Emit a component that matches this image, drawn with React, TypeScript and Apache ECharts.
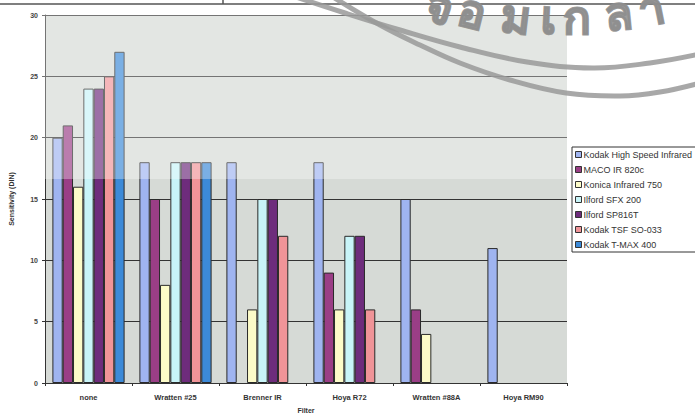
import React, { useEffect, useRef } from "react";
import * as echarts from "echarts";

const categories = ["none", "Wratten #25", "Brenner IR", "Hoya R72", "Wratten #88A", "Hoya RM90"];
const seriesNames = [
  "Kodak High Speed Infrared",
  "MACO IR 820c",
  "Konica Infrared 750",
  "Ilford SFX 200",
  "Ilford SP816T",
  "Kodak TSF SO-033",
  "Kodak T-MAX 400",
];
const kodakHSI = [20, 18, 18, 18, 15, 11];
const macoIR = [21, 15, null, 9, 6, null];
const konica750 = [16, 8, 6, 6, 4, null];
const ilfordSFX = [24, 18, 15, 12, null, null];
const ilfordSP816 = [24, 18, 15, 12, null, null];
const kodakTSF = [25, 18, 12, 6, null, null];
const kodakTmax = [27, 18, null, null, null, null];
const seriesData = [kodakHSI, macoIR, konica750, ilfordSFX, ilfordSP816, kodakTSF, kodakTmax];
const colors = ["#9fb4f0", "#9a3e86", "#fcfbc8", "#c8f4f8", "#6e2c7c", "#f09498", "#3c8ad8"];
const yTicks = [0, 5, 10, 15, 20, 25, 30];

// watermark (scanned seal) decoration
const watermarkChars = ["จ", "อ", "ม", "เ", "ก", "ล", "า"];
const watermarkX = [433, 467, 513, 548, 577, 620, 656];
const watermarkY = [27, 32, 38, 38, 39, 35, 29];
const watermarkRot = [-0.32, -0.24, -0.12, -0.05, 0.0, 0.1, 0.2];
const arcUpper = [[296, -3], [345, 13], [400, 30], [460, 47], [527, 62], [593, 68], [650, 63], [700, 54]];
const arcLower = [[333, -3], [380, 25], [420, 45], [460, 63], [510, 80], [566, 93], [620, 96], [660, 92], [700, 83]];

export default function App() {
  const ref = useRef<HTMLDivElement>(null);
  useEffect(() => {
    if (!ref.current) return;
    const chart = echarts.init(ref.current, null, { renderer: "svg" });
    const wm = watermarkChars.map((ch, i) => ({
      type: "text",
      x: watermarkX[i],
      y: watermarkY[i],
      rotation: watermarkRot[i],
      z: 101,
      silent: true,
      style: {
        text: ch,
        fontSize: 46,
        fontWeight: "bold",
        fontFamily: "Noto Sans, DejaVu Sans, sans-serif",
        fill: "#8e8e8e",
        stroke: "#8e8e8e",
        lineWidth: 1.6,
        opacity: 0.9,
        textAlign: "center",
        textVerticalAlign: "bottom",
      },
    }));
    chart.setOption({
      animation: false,
      backgroundColor: "#ffffff",
      textStyle: { fontFamily: "Liberation Sans, Arial, sans-serif" },
      grid: {
        left: 42,
        right: 128,
        top: 15,
        bottom: 32,
        show: true,
        backgroundColor: "#d6dad6",
        borderWidth: 0,
      },
      legend: {
        orient: "vertical",
        left: 572,
        top: 147,
        data: seriesNames,
        itemWidth: 6,
        itemHeight: 6,
        itemGap: 6,
        padding: [3, 5, 3, 3],
        backgroundColor: "#ffffff",
        borderColor: "#333",
        borderWidth: 1,
        textStyle: { fontSize: 9, color: "#333", padding: [0, 0, 0, -3] },
        icon: "rect",
        itemStyle: { borderColor: "#333", borderWidth: 1 },
      },
      xAxis: {
        type: "category",
        data: categories,
        name: "Filter",
        nameLocation: "middle",
        nameGap: 24,
        nameTextStyle: { fontSize: 7, fontWeight: "bold", color: "#333" },
        axisLine: { lineStyle: { color: "#333", width: 1 } },
        axisTick: { show: true, length: 3, lineStyle: { color: "#333" } },
        axisLabel: { fontSize: 7.5, fontWeight: "bold", color: "#333", margin: 10 },
        splitLine: { show: false },
      },
      yAxis: {
        type: "value",
        min: 0,
        max: 30,
        interval: 5,
        name: "Sensitivity (DIN)",
        nameLocation: "middle",
        nameGap: 30,
        nameTextStyle: { fontSize: 7, fontWeight: "bold", color: "#333" },
        axisLine: { show: true, lineStyle: { color: "#333", width: 1 } },
        axisTick: { show: true, length: 3, lineStyle: { color: "#333" } },
        axisLabel: {
          fontSize: 7,
          fontWeight: "bold",
          color: "#444",
          margin: 7,
          formatter: (v: number) => (yTicks.includes(v) ? String(v) : ""),
        },
        splitLine: { show: true, lineStyle: { color: "#333", width: 1 } },
      },
      series: seriesNames.map((name, i) => ({
        name,
        type: "bar",
        data: seriesData[i],
        barGap: "0%",
        barCategoryGap: "17%",
        itemStyle: { color: colors[i], borderColor: "#2a2a2a", borderWidth: 1 },
      })),
      graphic: [
        {
          type: "rect",
          z: 100,
          silent: true,
          shape: { x: 42, y: 14, width: 525, height: 165 },
          style: { fill: "#ffffff", opacity: 0.32 },
        },
        {
          type: "line",
          z: 101,
          silent: true,
          shape: { x1: 0, y1: 4, x2: 695, y2: 4 },
          style: { stroke: "#555", lineWidth: 1.5 },
        },
        {
          type: "line",
          z: 101,
          silent: true,
          shape: { x1: 223, y1: 0, x2: 223, y2: 4 },
          style: { stroke: "#555", lineWidth: 1.5 },
        },
        {
          type: "polyline",
          z: 101,
          silent: true,
          shape: { points: arcUpper, smooth: 0.4 },
          style: { stroke: "#999", lineWidth: 5, fill: "none", opacity: 0.85 },
        },
        {
          type: "polyline",
          z: 101,
          silent: true,
          shape: { points: arcLower, smooth: 0.4 },
          style: { stroke: "#999", lineWidth: 5, fill: "none", opacity: 0.85 },
        },
        ...wm,
      ],
    });
    return () => chart.dispose();
  }, []);
  return (
    <div
      ref={ref}
      style={{ width: 695, height: 419, position: "absolute", left: 0, top: 0 }}
    />
  );
}
